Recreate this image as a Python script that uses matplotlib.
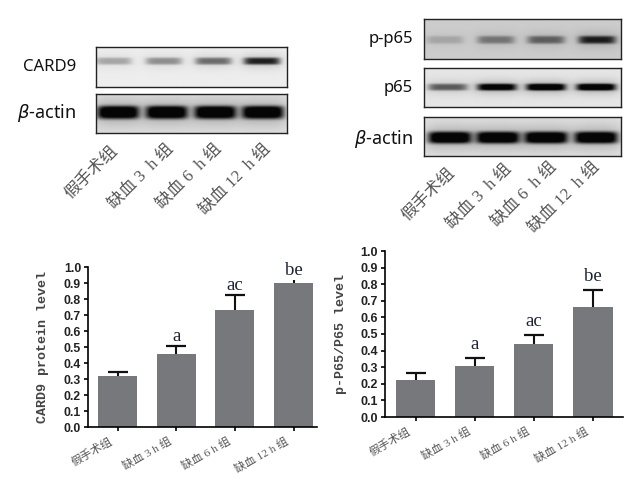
#!/usr/bin/env python
# western blots on top, bar plots with errorbars below
import numpy as np
import matplotlib.pyplot as plt

W, H = 634, 479

groups_blot = ['假手术组', '缺血 3  h 组', '缺血 6  h 组', '缺血 12  h 组']
groups_bar = ['假手术组', '缺血 3 h 组', '缺血 6 h 组', '缺血 12 h 组']
letters_card9 = ['', 'a', 'ac', 'be']
letters_p65 = ['', 'a', 'ac', 'be']

card9_mean = [0.32, 0.455, 0.73, 0.90]
card9_top = [0.345, 0.505, 0.825, 0.92]
p65_mean = [0.22, 0.31, 0.44, 0.66]
p65_top = [0.265, 0.355, 0.495, 0.765]
yticks = [0.0, 0.1, 0.2, 0.3, 0.4, 0.5, 0.6, 0.7, 0.8, 0.9, 1.0]

# band darkness per lane
band_card9 = [0.25, 0.33, 0.45, 0.72]
band_actin_l = [1.0, 1.0, 1.0, 1.0]
band_pp65 = [0.16, 0.36, 0.45, 0.72]
band_p65 = [0.5, 0.92, 1.0, 1.0]
band_actin_r = [1.0, 1.0, 1.0, 1.0]

serif_cjk = ['Liberation Serif', 'Noto Sans CJK SC']
fig = plt.figure(figsize=(W / 100, H / 100), dpi=100, facecolor='white')


def add_axes(x0, y0, x1, y1):
    # pixel box, y measured from the top
    return fig.add_axes([x0 / W, 1 - y1 / H, (x1 - x0) / W, (y1 - y0) / H])


def put_text(x, y, s, **kw):
    fig.text(x / W, 1 - y / H, s, **kw)


def blot(box, dark, centers, half_w, y_c, half_h, bg):
    ax = add_axes(*box)
    xx, yy = np.meshgrid(np.linspace(0, 1, 300), np.linspace(0, 1, 70))
    img = np.full(xx.shape, bg, dtype=float)
    for d, c in zip(dark, centers):
        core = np.exp(-((xx - c) / half_w) ** 6) * np.exp(-((yy - y_c) / half_h) ** 4)
        halo = np.exp(-((xx - c) / (half_w * 1.2)) ** 4) * np.exp(-((yy - y_c) / (half_h * 2.2)) ** 2)
        img = img - d * bg * (1.0 * core + 0.22 * halo)
    ax.imshow(np.clip(img, 0.02, 1), cmap='gray', vmin=0, vmax=1, aspect='auto', extent=(0, 1, 1, 0),
              interpolation='bilinear')
    ax.set_xticks([])
    ax.set_yticks([])
    for s in ax.spines.values():
        s.set_linewidth(1.0)
        s.set_color('#222222')
    return ax


def barplot(box, xlim, mean, top, letters, letter_gap, ylabel, ylab_x, tick_size):
    ax = add_axes(*box)
    x = np.arange(len(mean))
    ax.bar(x, mean, 0.665, color='#77787b', zorder=2)
    for i in range(len(mean)):
        cap = 0 if letters is letters_card9 and i == 3 else 7
        eb = ax.errorbar(x[i], mean[i], yerr=[[0], [top[i] - mean[i]]], color='#111111', capsize=cap,
                         elinewidth=1.5, capthick=1.6, fmt='none', zorder=1)
        if cap:
            eb[1][0].set_visible(False)
        if letters[i]:
            ax.text(x[i], top[i] + letter_gap, letters[i], ha='center', va='bottom', fontsize=13.5,
                    family='Liberation Serif', color='#1c2233', clip_on=False)
    ax.set_xlim(xlim)
    ax.set_ylim(0, 1)
    ax.set_yticks(yticks)
    ax.set_yticklabels(['%.1f' % t for t in yticks], family='Liberation Sans', weight='bold',
                       fontsize=tick_size, color='#222222')
    ax.set_xticks(x)
    ax.set_xticklabels([])
    # tick tick labels sit left of their ticks in the original
    for i in range(len(x)):
        ax.annotate(groups_bar[i], xy=(x[i], 0), xycoords=('data', 'axes fraction'), xytext=(-4, -9.5),
                    textcoords='offset points', rotation=30, ha='right', va='center', rotation_mode='anchor',
                    fontsize=8.2, family=serif_cjk, color='#555555', annotation_clip=False)
    ax.tick_params(axis='both', length=3, width=1.2, pad=2)
    ax.spines['top'].set_visible(False)
    ax.spines['right'].set_visible(False)
    ax.spines['left'].set_linewidth(1.2)
    ax.spines['bottom'].set_linewidth(1.2)
    put_text(ylab_x, (box[1] + box[3]) / 2, ylabel, rotation=90, ha='center', va='center',
             family='Liberation Mono', weight='bold', fontsize=9.6, color='#444444')
    return ax


# left blots
blot((96, 47, 287, 87), band_card9, [0.09, 0.355, 0.615, 0.87], 0.095, 0.35, 0.09, 0.93)
blot((96, 94, 287, 133), band_actin_l, [0.115, 0.37, 0.625, 0.875], 0.11, 0.47, 0.17, 0.88)

# right blots
blot((424, 19, 621, 59), band_pp65, [0.105, 0.365, 0.62, 0.88], 0.095, 0.52, 0.10, 0.80)
blot((424, 68, 621, 107), band_p65, [0.12, 0.37, 0.62, 0.875], 0.1, 0.49, 0.09, 0.90)
blot((424, 117, 621, 156), band_actin_r, [0.13, 0.375, 0.62, 0.875], 0.11, 0.54, 0.15, 0.88)

label_kw = dict(ha='right', va='center', family='Noto Sans', weight='medium', color='#111111')
put_text(76, 67, 'CARD9', fontsize=12, **label_kw)
put_text(76, 113, r'$\mathit{\beta}$-actin', fontsize=13, **label_kw)
put_text(413, 39, 'p-p65', fontsize=12, **label_kw)
put_text(413, 88, 'p65', fontsize=12, **label_kw)
put_text(413, 139, r'$\mathit{\beta}$-actin', fontsize=13, **label_kw)

# rotated group names under the blots
ends_left = [(110, 143), (165, 141), (213, 141), (262, 141)]
ends_right = [(447, 165), (503, 161), (548, 159), (591, 159)]
for ends in (ends_left, ends_right):
    for (ex, ey), name in zip(ends, groups_blot):
        put_text(ex, ey, name, rotation=45, ha='right', va='top', rotation_mode='anchor', fontsize=12.2,
                 family=serif_cjk, color='#555555')

barplot((88, 267, 317, 427), (-0.503, 3.40), card9_mean, card9_top, letters_card9, 0.005,
        'CARD9 protein level', 43, 8.8)
barplot((385, 251, 623, 417), (-0.52, 3.51), p65_mean, p65_top, letters_p65, 0.03,
        'p-P65/P65 level', 341, 9)

plt.savefig('out.png', dpi=100)
